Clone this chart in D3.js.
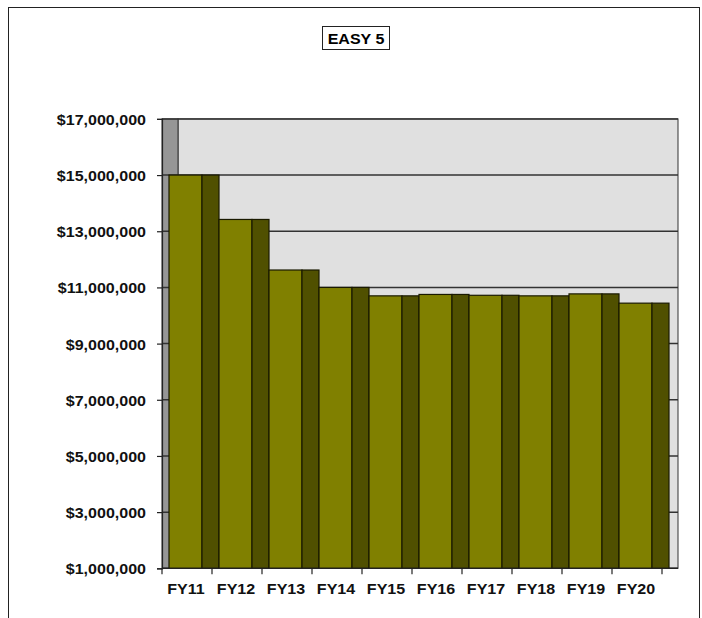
<!DOCTYPE html>
<html>
<head>
<meta charset="utf-8">
<script src="https://cdn.jsdelivr.net/npm/d3@7"></script>
<style>
  body { margin: 0; background: #fff; }
  text { font-family: Arial, "Liberation Sans", sans-serif; font-weight: bold; }
</style>
</head>
<body>
<div id="chart"></div>
<script>
// chart data
var years = ["FY11", "FY12", "FY13", "FY14", "FY15", "FY16", "FY17", "FY18", "FY19", "FY20"];
var amounts = [15000000, 13420000, 11620000, 11000000, 10700000, 10750000, 10720000, 10700000, 10770000, 10440000];
var yTicks = [1000000, 3000000, 5000000, 7000000, 9000000, 11000000, 13000000, 15000000, 17000000];
var title = "EASY 5";

var W = 702, H = 618;
var margin = { top: 119, right: 40, bottom: 50, left: 162 };
var depth = 16;       // horizontal 3d offset of the back wall
var stretch = 1.07;   // excel-ish wide text

var svg = d3.select("#chart").append("svg")
  .attr("width", W)
  .attr("height", H);

// outer chart frame
svg.append("rect")
  .attr("x", 8.5).attr("y", 7.5)
  .attr("width", 691).attr("height", 640)
  .attr("fill", "#fff").attr("stroke", "#222").attr("stroke-width", 1);

// title in a box
var tg = svg.append("g");
tg.append("rect")
  .attr("x", 322.5).attr("y", 26.5)
  .attr("width", 67).attr("height", 23)
  .attr("fill", "#fff").attr("stroke", "#222");
tg.append("text")
  .attr("transform", "translate(356,43.5) scale(" + stretch + ",1)")
  .attr("text-anchor", "middle")
  .style("font-size", "15px")
  .text(title);

var x0 = margin.left, x1 = 662;
var y0 = 568.3, y1 = 118.9;

var x = d3.scaleBand().domain(years).range([x0, x1]).padding(0);
var y = d3.scaleLinear().domain([1000000, 17000000]).range([y0, y1]);
var bw = x.bandwidth();

// back wall
svg.append("rect")
  .attr("x", x0 + depth).attr("y", y(17000000))
  .attr("width", x1 - x0).attr("height", y(1000000) - y(17000000))
  .attr("fill", "#e0e0e0").attr("stroke", "#333").attr("stroke-width", 1);

// side wall
svg.append("rect")
  .attr("x", x0).attr("y", y(17000000))
  .attr("width", depth).attr("height", y(1000000) - y(17000000))
  .attr("fill", "#969696").attr("stroke", "#333").attr("stroke-width", 1);

// gridlines
svg.selectAll(".grid")
  .data(yTicks)
  .enter()
  .append("line")
  .attr("x1", x0).attr("x2", x1 + depth)
  .attr("y1", function (d) { return y(d); })
  .attr("y2", function (d) { return y(d); })
  .attr("stroke", "#333")
  .attr("stroke-width", 1.5);

// bars: front face + right side face
var bars = svg.selectAll(".bar")
  .data(years)
  .enter()
  .append("g");

bars.append("rect")
  .attr("x", function (d) { return x(d) + bw * 0.14; })
  .attr("y", function (d, i) { return y(amounts[i]); })
  .attr("width", bw * 0.66)
  .attr("height", function (d, i) { return y(1000000) - y(amounts[i]); })
  .attr("fill", "#808000")
  .attr("stroke", "#1a1a00").attr("stroke-width", 1.2);

bars.append("rect")
  .attr("x", function (d) { return x(d) + bw * 0.80; })
  .attr("y", function (d, i) { return y(amounts[i]); })
  .attr("width", bw * 0.34)
  .attr("height", function (d, i) { return y(1000000) - y(amounts[i]); })
  .attr("fill", "#505000")
  .attr("stroke", "#1a1a00").attr("stroke-width", 1.2);

// y axis
var yAxis = svg.append("g")
  .attr("transform", "translate(" + x0 + ",0)")
  .call(d3.axisLeft(y).tickValues(yTicks).tickSize(5).tickPadding(11)
    .tickFormat(function (d) { return "$" + d3.format(",")(d); }));
yAxis.select(".domain").attr("stroke", "#222").attr("stroke-width", 1.2);
yAxis.selectAll(".tick line").attr("stroke", "#222").attr("stroke-width", 1.2);
yAxis.selectAll(".tick text")
  .attr("x", null).attr("dy", null)
  .attr("transform", "translate(-16,5.5) scale(" + stretch + ",1)")
  .style("font-size", "15px")
  .attr("fill", "#111");

// x axis: labels at band centres, ticks at band edges
var xAxis = svg.append("g")
  .attr("transform", "translate(0," + y0 + ")")
  .call(d3.axisBottom(x).tickSize(0).tickPadding(0));
xAxis.select(".domain").remove();
xAxis.selectAll(".tick text")
  .attr("y", null).attr("dy", null)
  .attr("transform", "translate(-1,25.5) scale(" + stretch + ",1)")
  .style("font-size", "15px")
  .attr("fill", "#111");

svg.append("line")
  .attr("x1", x0).attr("x2", x1 + depth)
  .attr("y1", y0).attr("y2", y0)
  .attr("stroke", "#222").attr("stroke-width", 1.2);

var edges = years.map(function (d) { return x(d); }).concat([x1]);
svg.selectAll(".xtick")
  .data(edges)
  .enter()
  .append("line")
  .attr("x1", function (d) { return d; })
  .attr("x2", function (d) { return d; })
  .attr("y1", y0).attr("y2", y0 + 6)
  .attr("stroke", "#222").attr("stroke-width", 1.2);
</script>
</body>
</html>
